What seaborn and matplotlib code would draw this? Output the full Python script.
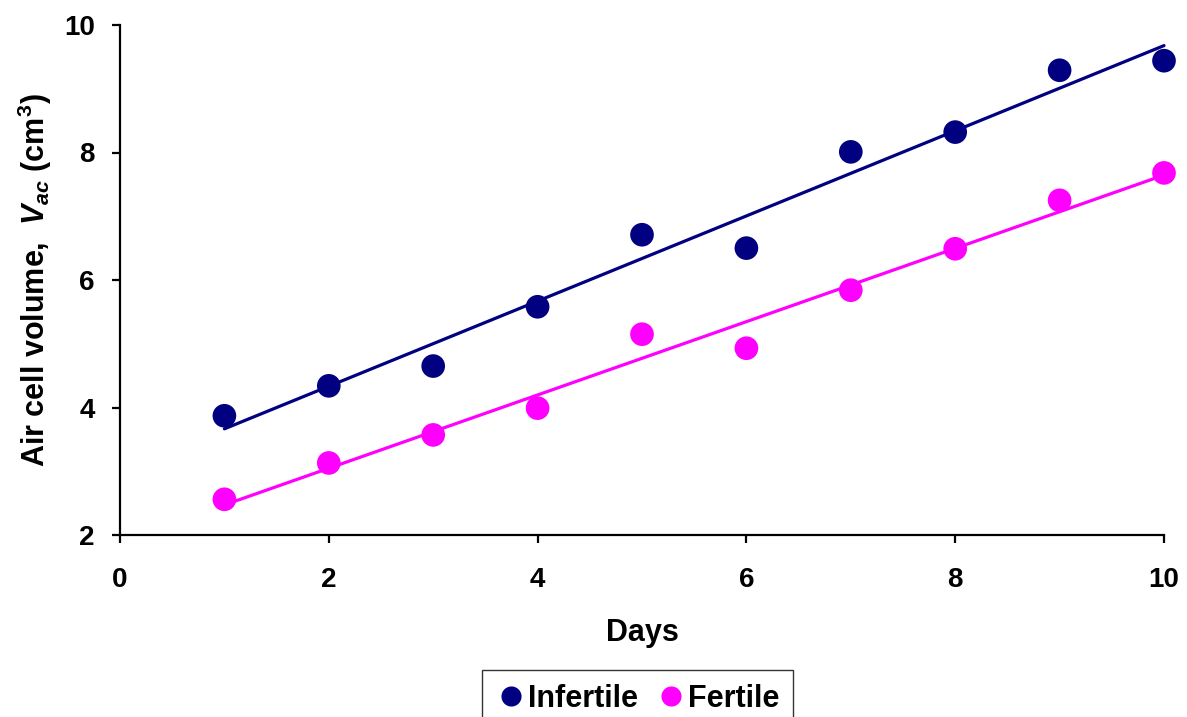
import numpy as np
import pandas as pd
import matplotlib
matplotlib.use("Agg")
import matplotlib.pyplot as plt
import seaborn as sns

days = [1, 2, 3, 4, 5, 6, 7, 8, 9, 10]
infertile = [3.87, 4.34, 4.65, 5.58, 6.71, 6.50, 8.01, 8.32, 9.29, 9.44]
fertile = [2.56, 3.13, 3.57, 3.99, 5.15, 4.93, 5.84, 6.49, 7.25, 7.68]
groups = ["Infertile", "Fertile"]
colors = {"Infertile": "#000080", "Fertile": "#FF00FF"}
x_ticks = [0, 2, 4, 6, 8, 10]
y_ticks = [2, 4, 6, 8, 10]

df = pd.DataFrame({
    "Days": days * 2,
    "Vac": infertile + fertile,
    "Group": ["Infertile"] * len(days) + ["Fertile"] * len(days),
})

sns.set_style("white")
plt.rcParams["font.family"] = ["Liberation Sans", "DejaVu Sans"]
plt.rcParams["font.weight"] = "bold"
plt.rcParams["text.color"] = "black"
plt.rcParams["axes.labelcolor"] = "black"
plt.rcParams["mathtext.fontset"] = "custom"
plt.rcParams["mathtext.rm"] = "Liberation Sans:bold"
plt.rcParams["mathtext.it"] = "Liberation Sans:italic:bold"
plt.rcParams["mathtext.bf"] = "Liberation Sans:bold"

fig = plt.figure(figsize=(11.87, 7.17), dpi=100)
ax = fig.add_axes([120 / 1187, 1 - 535 / 717, 1044 / 1187, 510 / 717])

sns.scatterplot(data=df, x="Days", y="Vac", hue="Group", hue_order=groups,
                palette=colors, s=290, edgecolor="none", linewidth=0,
                ax=ax, zorder=2, legend=True, clip_on=False)
for g, vals in zip(groups, [infertile, fertile]):
    sns.regplot(x=np.array(days), y=np.array(vals), scatter=False, ci=None,
                color=colors[g], truncate=True,
                line_kws=dict(lw=2.3, zorder=3, clip_on=False), ax=ax)

ax.set_xlim(0, 10)
ax.set_ylim(2, 10)
ax.set_xticks(x_ticks)
ax.set_yticks(y_ticks)
ax.set_xticklabels([str(t) for t in x_ticks])
ax.set_yticklabels([str(t) for t in y_ticks])
for s in ["top", "right"]:
    ax.spines[s].set_visible(False)
for s in ["left", "bottom"]:
    ax.spines[s].set_linewidth(1.6)
    ax.spines[s].set_color("black")
ax.tick_params(axis="both", direction="out", length=6, width=1.6, colors="black",
               labelsize=20)
ax.tick_params(axis="x", pad=17)
ax.tick_params(axis="y", pad=12)
ax.tick_params(which="both", bottom=True, left=True)
for lab in ax.get_xticklabels() + ax.get_yticklabels():
    lab.set_fontweight("bold")

ax.set_xlabel("Days", fontsize=22, fontweight="bold", color="black")
ax.xaxis.set_label_coords(0.5, -0.163)
ax.set_ylabel(r"Air cell volume,  $V_{ac}$ (cm$^{3}$)", fontsize=22,
              fontweight="bold", color="black")
ax.yaxis.set_label_coords(-0.063, 0.5)

handles, labels = ax.get_legend_handles_labels()
leg = ax.legend(handles, labels, loc="upper center",
                bbox_to_anchor=(0.537, 1 - 670 / 717), bbox_transform=fig.transFigure,
                borderaxespad=0.0,
                ncol=2, frameon=True, fancybox=False, edgecolor="black",
                fontsize=22, handletextpad=0.05, columnspacing=0.6,
                borderpad=0.45, handlelength=1.0, markerscale=0.85)
leg.get_frame().set_linewidth(1.0)
for t in leg.get_texts():
    t.set_fontweight("bold")
    t.set_color("black")

fig.savefig("out.png", dpi=100)
